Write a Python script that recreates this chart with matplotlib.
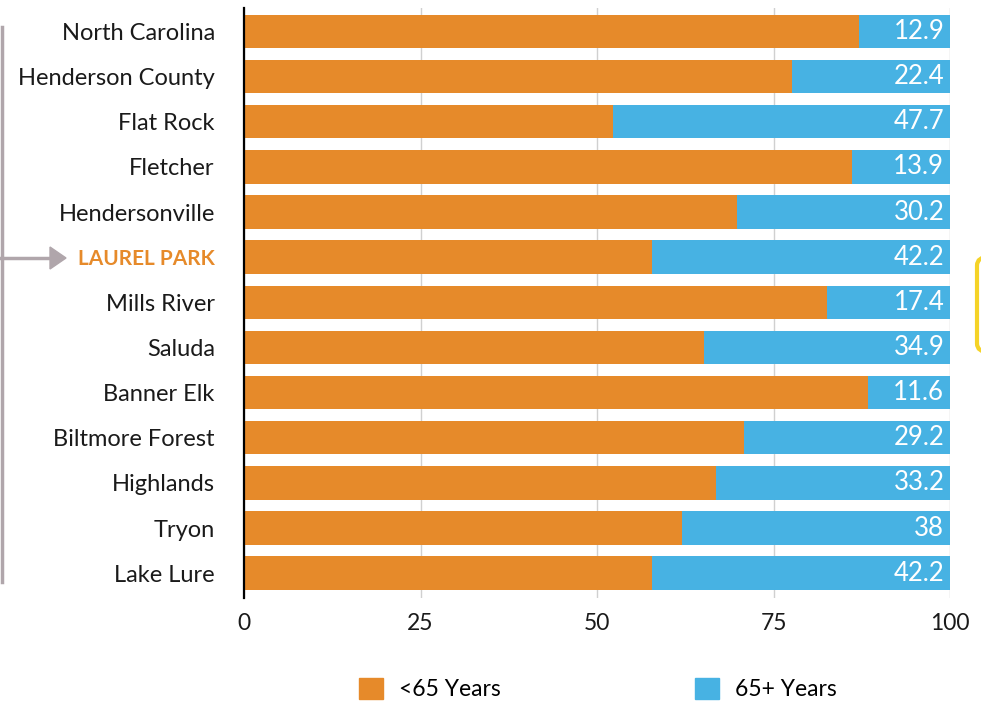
import matplotlib
matplotlib.use("Agg")
import matplotlib.pyplot as plt
from matplotlib.patches import FancyBboxPatch
from matplotlib.lines import Line2D

categories = ["North Carolina", "Henderson County", "Flat Rock", "Fletcher",
              "Hendersonville", "LAUREL PARK", "Mills River", "Saluda",
              "Banner Elk", "Biltmore Forest", "Highlands", "Tryon", "Lake Lure"]
over65 = [12.9, 22.4, 47.7, 13.9, 30.2, 42.2, 17.4, 34.9, 11.6, 29.2, 33.2, 38, 42.2]
over65_labels = ["12.9", "22.4", "47.7", "13.9", "30.2", "42.2", "17.4", "34.9",
                 "11.6", "29.2", "33.2", "38", "42.2"]
under65 = [100 - v for v in over65]
xticks = [0, 25, 50, 75, 100]
series_names = ["<65 Years", "65+ Years"]
highlight = "LAUREL PARK"

ORANGE = "#E68A2A"
BLUE = "#47B2E3"

plt.rcParams["font.family"] = ["Lato", "DejaVu Sans"]

fig = plt.figure(figsize=(9.81, 7.08), dpi=100)
ax = fig.add_axes([244/981, 1 - 598/708, (950-244)/981, (598-8)/708])

y = list(range(len(categories)))
ax.barh(y, under65, height=0.74, color=ORANGE, zorder=2, label=series_names[0])
ax.barh(y, over65, left=under65, height=0.74, color=BLUE, zorder=2, label=series_names[1])

for i, (v, lab) in enumerate(zip(over65, over65_labels)):
    ax.text(99.2, i, lab, ha="right", va="center", color="white", fontsize=18.5, zorder=3)

ax.set_xlim(0, 100)
ax.set_ylim(12.55, -0.52)
ax.set_yticks(y)
ax.set_yticklabels(categories)
for lbl in ax.get_yticklabels():
    if lbl.get_text() == highlight:
        lbl.set_color(ORANGE)
        lbl.set_fontweight("bold")
        lbl.set_fontsize(15)
    else:
        lbl.set_fontsize(17)
        lbl.set_color("#1a1a1a")
ax.tick_params(axis="y", length=0, pad=21)
ax.set_xticks(xticks)
ax.set_xticklabels([str(t) for t in xticks], fontsize=16.5, color="#1a1a1a")
ax.tick_params(axis="x", length=0, pad=11)
ax.grid(axis="x", color="#d0d0d0", linewidth=1, zorder=0)
ax.set_axisbelow(True)
for s in ["top", "right", "bottom"]:
    ax.spines[s].set_visible(False)
ax.spines["left"].set_color("black")
ax.spines["left"].set_linewidth(1.6)

# legend
handles = [plt.Rectangle((0, 0), 1, 1, color=ORANGE), plt.Rectangle((0, 0), 1, 1, color=BLUE)]
fig.legend(handles, series_names, loc="center", bbox_to_anchor=(598/981, 1 - 689/708),
           ncol=2, frameon=False, fontsize=16.5, handlelength=1.05, handleheight=1.05,
           columnspacing=8.5, handletextpad=0.7)

# decorations
fig.add_artist(Line2D([1.5/981, 1.5/981], [1 - 27/708, 1 - 582/708], color="#b0a6ab", lw=2.5))
fig.add_artist(Line2D([0, 52/981], [1 - 258/708, 1 - 258/708], color="#b0a6ab", lw=2.5))
fig.add_artist(plt.Polygon([[50/981, 1 - 247/708], [66/981, 1 - 258/708], [50/981, 1 - 269/708]],
                           closed=True, color="#b0a6ab", transform=fig.transFigure))
fig.add_artist(FancyBboxPatch((977/981, 1 - 352/708), 0.03, 95/708,
                              boxstyle="round,pad=0,rounding_size=0.012",
                              facecolor="white", edgecolor="#F5D327", lw=3,
                              transform=fig.transFigure))

fig.savefig("out.png", dpi=100)
